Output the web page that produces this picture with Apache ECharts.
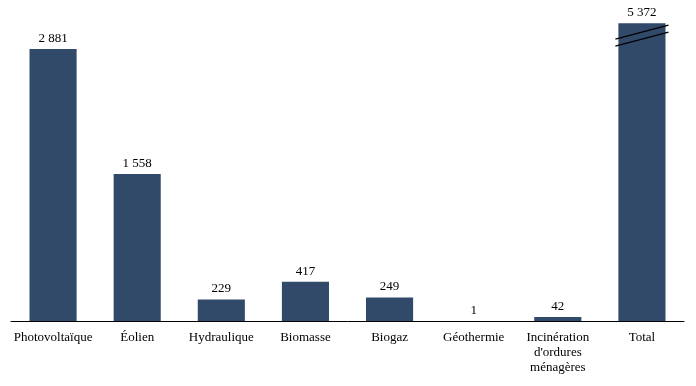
<!DOCTYPE html>
<html><head><meta charset="utf-8">
<script src="https://cdn.jsdelivr.net/npm/echarts@6/dist/echarts.min.js"></script>
<style>html,body{margin:0;padding:0;background:#fff}#c{width:696px;height:386px}</style>
</head><body><div id="c"></div>
<script>
var categories = ["Photovoltaïque", "Éolien", "Hydraulique", "Biomasse", "Biogaz", "Géothermie", "Incinération\nd'ordures\nménagères", "Total"];
var values = [2881, 1558, 229, 417, 249, 1, 42, 5372];
var valueLabels = ["2 881", "1 558", "229", "417", "249", "1", "42", "5 372"];
var brokenDisplayValue = 3156; // total bar is drawn truncated (axis break)
var axisMax = 3200;

var chart = echarts.init(document.getElementById('c'), null, {renderer: 'canvas'});
var font = '"Liberation Serif", "DejaVu Serif", serif';
var data = values.map(function (v, i) {
  var shown = v > axisMax ? brokenDisplayValue : v;
  return {value: shown, label: {formatter: valueLabels[i]}};
});
var breakData = [];
values.forEach(function (v, i) { if (v > axisMax) breakData.push([i, brokenDisplayValue]); });

chart.setOption({
  animation: false,
  grid: {left: 11, right: 12, top: 19, bottom: 65, containLabel: false},
  xAxis: {
    type: 'category', data: categories,
    axisLine: {lineStyle: {color: '#000', width: 1}},
    axisTick: {show: false},
    axisLabel: {color: '#000', fontFamily: font, fontSize: 13, lineHeight: 15, margin: 9, interval: 0}
  },
  yAxis: {type: 'value', min: 0, max: axisMax, show: false, splitLine: {show: false}},
  series: [{
    type: 'bar', data: data, barWidth: '56%',
    itemStyle: {color: '#324a6a'},
    label: {show: true, position: 'top', distance: 4, color: '#000', fontFamily: font, fontSize: 13}
  }, {
    type: 'custom', data: breakData, z: 10, silent: true,
    renderItem: function (params, api) {
      var pt = api.coord([api.value(0), api.value(1)]);
      var bw = api.size([1, 0])[0];
      var half = bw * 0.56 / 2 + 3;
      var cx = pt[0], top = pt[1];
      function line(off) {
        return {type: 'line', shape: {x1: cx - half, y1: top + off + 14, x2: cx + half, y2: top + off},
                style: {stroke: '#000', lineWidth: 1.3}};
      }
      return {type: 'group', children: [line(2), line(9)]};
    }
  }]
});
</script></body></html>
